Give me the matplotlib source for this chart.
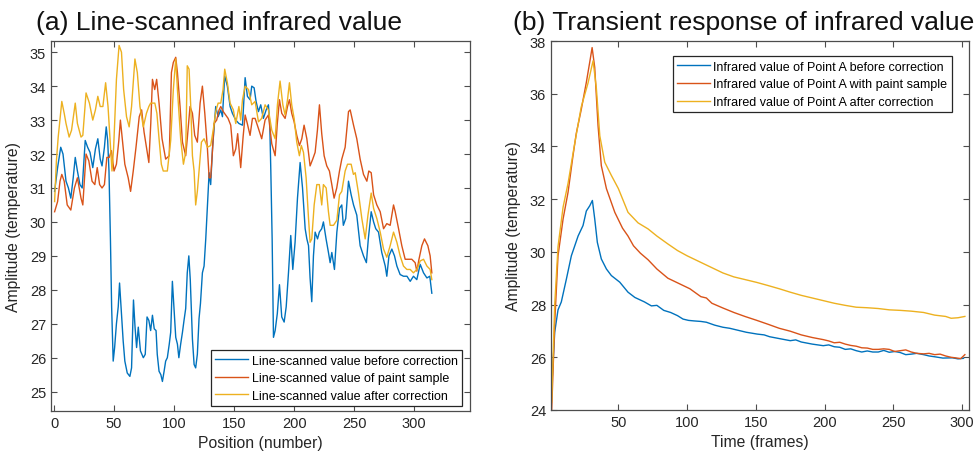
import matplotlib
matplotlib.use("Agg")
import matplotlib.pyplot as plt

# ---------------- data: panel (a) ----------------
blue_pos = [0.5, 3, 5.6, 7.5, 10, 12, 14, 16, 17.7, 19.5, 21.6, 23.5, 26, 28, 30, 32.3, 34.5, 36.5, 38.5, 40,
            42, 43.5, 44.7, 45.8, 47, 48, 49.3, 50.5, 52, 53.5, 54.6, 55.8, 57.6, 59, 61, 63.2, 64.6, 66.2, 67.5, 68.8,
            70.2, 72, 74.4, 76, 77.5, 79, 80.5, 82, 83.5, 85, 86, 87.5, 89, 90.3, 91.7, 93, 94.4, 96, 97.2, 98.6,
            100, 101.4, 102.8, 104, 105.5, 107, 108.3, 109.7, 111, 112.3, 113.5, 115.3, 116.7, 118, 119.4, 120.8, 122, 123.6, 125, 126.4,
            127.8, 129.2, 130.5, 132, 133.3, 134.7, 136.7, 138.9, 140.3, 142.2, 144.4, 146.7, 148.6, 151.4, 154, 157, 159.2, 161.1, 163.3, 164.7,
            166.7, 168.3, 170.3, 172.2, 174.4, 176.7, 178.6, 179.7, 180.6, 181.7, 182.8, 184.2, 186, 187.8, 189.7, 191.7, 193.4, 195.3, 197.2, 198.9,
            200.8, 202.8, 205, 207, 209.2, 210.6, 212, 213.3, 214.7, 216.1, 217.5, 219.5, 221, 223, 224.4, 226.6, 228.6, 230, 231.4, 233.6,
            235.6, 237.8, 239.7, 241, 243, 245.3, 247.5, 249.5, 252.2, 255, 257.8, 260.2, 261.8, 264.2, 266.2, 268, 270.3, 273, 275.9, 277.2,
            279, 281.4, 283.6, 285.6, 288.3, 291.1, 294, 296.7, 299.4, 302.2, 305, 307.8, 310.6, 313, 314.7]
blue_val = [30.9, 31.6, 32.2, 32.0, 31.2, 31.0, 30.7, 31.3, 31.9, 31.5, 31.1, 31.0, 32.4, 32.2, 32.05, 31.6, 32.15, 32.45, 31.85, 31.65,
            32.2, 32.8, 32.4, 31.5, 29.5, 27.5, 25.9, 26.3, 27.0, 27.5, 28.2, 27.5, 26.5, 25.9, 25.55, 25.45, 25.7, 27.7, 26.9, 26.3,
            26.9, 26.2, 26.0, 26.1, 27.2, 27.1, 26.8, 27.25, 26.85, 26.8, 26.1, 25.6, 25.5, 25.3, 25.6, 25.9, 26.0, 26.4, 26.75, 28.25,
            27.4, 26.6, 26.4, 26.0, 26.4, 26.75, 27.1, 27.45, 28.5, 29.0, 28.3, 26.55, 25.8, 25.7, 26.1, 27.15, 27.6, 28.5, 28.7, 29.5,
            30.5, 31.45, 31.1, 32.15, 32.75, 33.4, 33.1, 33.3, 33.1, 34.3, 34.0, 33.4, 33.2, 33.0, 32.9, 32.85, 34.25, 33.7, 33.6, 34.0,
            33.95, 33.55, 33.25, 33.45, 33.05, 33.3, 33.45, 32.9, 31.5, 29.5, 26.6, 26.8, 27.3, 28.15, 27.2, 27.05, 27.5, 28.5, 29.6, 28.6,
            29.4, 30.7, 31.75, 31.0, 29.8, 29.5, 29.3, 28.35, 27.65, 29.0, 29.7, 29.5, 29.7, 29.8, 30.0, 29.5, 29.1, 28.8, 29.1, 28.6,
            29.7, 30.4, 30.5, 29.9, 30.1, 31.2, 30.8, 30.5, 30.2, 29.3, 29.0, 28.8, 29.5, 30.3, 30.0, 29.8, 29.7, 29.1, 28.7, 28.4,
            29.0, 29.2, 29.0, 28.7, 28.45, 28.4, 28.4, 28.25, 28.4, 28.3, 28.75, 28.5, 28.35, 28.4, 27.9]

red_pos = [0.5, 3, 5, 6.5, 8.5, 11, 14, 17, 19.5, 22.5, 24, 26.7, 29, 31.7, 34, 36, 38, 40, 42, 44,
           46, 47.8, 50, 52, 54, 55.3, 57, 59, 61.8, 63.8, 66, 68.3, 71, 73, 75, 77, 79, 80.6, 82, 83.9,
           85.5, 87.5, 90, 93, 96, 97.8, 99.4, 101.4, 102.8, 105, 107, 109.7, 111, 113.3, 115.3, 117.2, 119.4, 121.7, 123.6, 125.6,
           127.8, 129.2, 130.5, 132, 133.3, 135.5, 137.5, 138.9, 141, 143, 145, 147.2, 149.4, 151.4, 153, 155.5, 157.5, 159.2, 161, 163.3,
           165.3, 167.5, 170.3, 173, 175.8, 178.6, 181.4, 184.2, 186, 187.8, 189.7, 192.5, 194.5, 196.1, 198, 200, 202.2, 204.4, 206.4, 208.3,
           210.6, 213.3, 215.5, 217.5, 219.4, 221.1, 223, 225, 227.2, 229.4, 231.4, 233.3, 235.5, 237.8, 239.7, 242.5, 245.3, 246.7, 249.5, 252.2,
           255, 257.8, 260.6, 262.2, 264.2, 266.2, 268.9, 271.7, 274.5, 277.2, 280, 282.8, 284.2, 287, 289.7, 292.5, 295.3, 298, 300.8, 302.2,
           304, 306.4, 308.6, 311.4, 313.3, 314.7]
red_val = [30.3, 30.6, 31.2, 31.4, 31.2, 30.5, 30.35, 31.0, 31.3, 30.7, 30.5, 32.0, 31.8, 31.2, 31.1, 31.6, 31.1, 31.0, 31.1, 31.9,
           31.9, 32.1, 31.5, 31.7, 32.4, 33.0, 32.4, 31.7, 31.3, 30.9, 31.5, 32.2, 33.1, 33.3, 32.65, 32.2, 31.75, 32.9, 34.2, 33.9,
           34.2, 33.5, 32.45, 31.85, 31.95, 34.4, 34.7, 34.85, 34.4, 33.4, 32.35, 31.95, 32.45, 33.4, 33.2, 32.55, 32.35, 33.5, 34.0, 33.2,
           32.15, 31.3, 31.3, 32.1, 32.9, 33.0, 33.3, 33.4, 33.25, 33.15, 33.05, 32.85, 31.95, 32.15, 32.6, 31.6, 32.5, 33.15, 32.9, 32.55,
           33.05, 33.05, 32.75, 32.45, 33.0, 33.15, 32.3, 31.95, 32.9, 33.6, 33.2, 33.05, 33.4, 33.6, 33.2, 32.95, 32.55, 32.25, 32.45, 32.85,
           32.45, 31.65, 31.85, 32.05, 32.7, 33.45, 32.6, 31.95, 31.65, 31.5, 31.1, 30.7, 31.0, 31.5, 31.85, 32.2, 33.25, 33.3, 32.85, 32.45,
           31.85, 31.4, 31.2, 31.5, 31.45, 30.8, 30.5, 30.3, 29.8, 29.95, 29.9, 30.5, 30.3, 29.8, 29.3, 28.9, 28.9, 28.9, 28.8, 28.55,
           28.9, 29.3, 29.5, 29.3, 29.0, 28.5]

yel_pos = [0.5, 2, 3.5, 6.5, 8.5, 10, 12.6, 14.6, 17.7, 19.5, 22.5, 24, 26.7, 29.5, 32.3, 34.5, 36.5, 38.5, 40.7, 43,
           45, 47, 48.3, 49.7, 52, 54.2, 56.2, 58, 60.4, 62.6, 64.6, 67.4, 69.4, 71.6, 74.4, 77, 79, 80.5, 82, 84,
           85.7, 87.5, 89.4, 91, 94.4, 97.2, 99.4, 101.4, 102.8, 105.5, 107.8, 109.7, 111, 112.5, 113.9, 115.3, 116.7, 118, 119.4, 120.8,
           122.8, 125, 127.8, 130.5, 132.8, 134.7, 136.7, 138.9, 140.8, 142.2, 144.4, 146.7, 149.4, 151.4, 154, 155.5, 157, 159.2, 162, 164.7,
           167.5, 170.3, 173, 175.8, 178.6, 181.4, 184.2, 186.1, 188.3, 190.6, 192.5, 194.5, 196.1, 198, 200, 202.2, 204.4, 206, 207.8, 210,
           212, 213.3, 214.7, 216.7, 218.9, 221, 223, 224.4, 226.7, 228.6, 230, 232.8, 235.6, 237.8, 239.7, 242.5, 244.5, 247.5, 249.4, 250.9,
           253.6, 256.4, 259.2, 261.5, 264.2, 266.2, 268.9, 271.7, 274.5, 277.2, 280, 282.8, 285.6, 288.3, 291.1, 293.9, 296.7, 299.4, 302.2, 305,
           307.8, 310.6, 313.3, 314.7]
yel_val = [30.6, 31.8, 32.5, 33.55, 33.2, 32.9, 32.5, 32.7, 33.5, 32.9, 32.5, 32.55, 33.8, 33.5, 33.0, 33.3, 33.7, 33.4, 33.4, 34.1,
           33.4, 32.25, 31.5, 32.2, 34.2, 35.2, 35.0, 33.9, 33.1, 32.8, 33.4, 34.8, 34.4, 33.4, 32.8, 33.2, 33.4, 33.5, 33.5, 33.5,
           33.2, 32.45, 31.7, 31.5, 31.5, 32.4, 33.9, 34.8, 33.9, 32.45, 31.7, 32.05, 34.6, 34.5, 33.4, 31.95, 31.5, 30.5, 30.9, 31.5,
           32.35, 32.45, 32.2, 32.25, 32.75, 33.25, 33.5, 33.5, 33.9, 34.5, 34.1, 33.5, 33.3, 32.9, 33.4, 33.0, 33.6, 34.0, 33.9, 33.45,
           33.55, 32.95, 33.05, 33.45, 33.3, 32.7, 32.45, 33.45, 34.15, 33.45, 33.15, 33.6, 34.1, 33.45, 33.05, 32.35, 31.95, 32.25, 32.05, 31.3,
           30.1, 29.4, 29.5, 30.5, 31.1, 31.1, 30.5, 31.1, 31.0, 30.3, 29.9, 29.9, 30.05, 30.8, 30.9, 31.5, 31.7, 31.7, 31.4, 31.45,
           30.85, 30.1, 29.5, 30.2, 30.85, 30.4, 30.1, 29.7, 29.2, 28.96, 29.3, 29.7, 29.4, 29.0, 28.7, 28.6, 28.6, 28.5, 28.6, 28.85,
           28.9, 28.7, 28.6, 28.3]

labels_a = ["Line-scanned value before correction",
            "Line-scanned value of paint sample",
            "Line-scanned value after correction"]

# ---------------- data: panel (b) ----------------
bt_frames = [1, 2, 3.7, 6.1, 8.5, 12.2, 15.8, 20.7, 24.3, 26.7, 29.2, 31.1, 32.8, 34.7, 37.6, 41.3, 44.9, 51, 57, 62,
             69, 74, 78, 83, 88, 93, 97, 101, 105, 110, 114, 120, 126, 131, 135, 143, 151, 156, 160, 168, 175, 179, 183, 191,
             199, 203, 207, 211, 215, 219, 223, 227, 231, 235, 239, 243, 247, 251, 255, 259, 263, 267, 272, 276, 280, 286, 293, 297, 301]
bt_val = [24.6, 25.3, 26.95, 27.8, 28.1, 28.97, 29.85, 30.6, 31.0, 31.55, 31.75, 31.95, 31.25, 30.36, 29.73, 29.35, 29.1, 28.85, 28.47, 28.27,
          28.1, 27.95, 27.97, 27.78, 27.7, 27.58, 27.45, 27.4, 27.38, 27.36, 27.33, 27.22, 27.14, 27.1, 27.05, 26.95, 26.88, 26.85, 26.78, 26.7, 26.63, 26.66, 26.58, 26.5,
          26.44, 26.47, 26.4, 26.38, 26.3, 26.32, 26.25, 26.2, 26.24, 26.2, 26.2, 26.26, 26.19, 26.22, 26.18, 26.1, 26.12, 26.15, 26.1, 26.05, 26.02, 25.97, 25.98, 25.94, 25.96]

rt_frames = [1.5, 3.7, 6.1, 9.8, 13.4, 17, 19.4, 23, 26.7, 29.5, 30.9, 32.8, 35.2, 37.6, 41.3, 47.4, 53, 57, 61, 66,
             71.6, 78, 86, 94, 102, 110, 114, 118, 126, 134, 142, 150.7, 159, 167, 175, 183, 191, 199, 203, 207, 211, 215, 219, 223,
             227, 231, 235, 239, 243, 247, 251, 255, 259, 263, 267, 272, 276, 280, 284, 288, 292, 295, 299, 302]
rt_val = [24.0, 27.3, 29.85, 31.25, 32.26, 33.65, 34.5, 35.4, 36.43, 37.3, 37.75, 37.0, 34.8, 33.27, 32.4, 31.5, 30.9, 30.6, 30.23, 29.95,
          29.7, 29.35, 29.0, 28.8, 28.6, 28.3, 28.25, 28.05, 27.87, 27.7, 27.55, 27.4, 27.25, 27.1, 26.99, 26.85, 26.75, 26.67, 26.62, 26.55, 26.57, 26.5, 26.45, 26.42,
          26.36, 26.35, 26.3, 26.3, 26.32, 26.3, 26.22, 26.25, 26.28, 26.2, 26.15, 26.13, 26.15, 26.1, 26.12, 26.05, 26.0, 25.98, 25.95, 26.1]

yt_frames = [1.5, 3.7, 6.1, 9.8, 13.4, 18.2, 23, 27.9, 31.6, 34, 36.5, 40.1, 44.9, 50, 57, 64.3, 71.6, 78, 86, 93,
             100, 110, 118, 126, 134, 142, 150.7, 159, 167, 175, 183, 191, 199, 207, 215, 223, 231, 239, 247, 255,
             263, 272, 280, 288, 292, 297, 302]
yt_val = [24.3, 28.0, 30.2, 31.7, 32.6, 34.1, 35.5, 36.4, 37.25, 36.2, 34.4, 33.4, 32.9, 32.4, 31.5, 31.1, 30.87, 30.6, 30.3, 30.05,
          29.85, 29.6, 29.4, 29.2, 29.05, 28.95, 28.84, 28.72, 28.6, 28.47, 28.35, 28.25, 28.15, 28.05, 27.97, 27.9, 27.88, 27.85, 27.8, 27.78,
          27.75, 27.7, 27.6, 27.55, 27.48, 27.5, 27.55]

labels_b = ["Infrared value of Point A before correction",
            "Infrared value of Point A with paint sample",
            "Infrared value of Point A after correction"]

colors = ["#0072BD", "#D95319", "#EDB120"]

# ---------------- figure ----------------
plt.rcParams['font.family'] = ['Liberation Sans', 'DejaVu Sans']
W, H = 979, 464
fig = plt.figure(figsize=(W / 100, H / 100), dpi=100)

def px_axes(x0, x1, y0, y1):
    return fig.add_axes([x0 / W, 1 - y1 / H, (x1 - x0) / W, (y1 - y0) / H])

def style(ax):
    for s in ax.spines.values():
        s.set_color("#4d4d4d")
        s.set_linewidth(0.9)
    ax.tick_params(direction="in", top=True, right=True, length=4, width=0.8,
                   colors="#4d4d4d", labelcolor="#262626", labelsize=10.5)

def legend(ax, labels_loc, anchor):
    leg = ax.legend(loc=labels_loc, bbox_to_anchor=anchor, borderaxespad=0,
                    fontsize=9.0, frameon=True, fancybox=False, framealpha=1,
                    handlelength=2.6, handletextpad=0.3, labelspacing=0.45, borderpad=0.35)
    leg.get_frame().set_edgecolor("#262626")
    leg.get_frame().set_linewidth(0.9)
    return leg

ax1 = px_axes(51, 470, 42, 412)
ax1.plot(blue_pos, blue_val, color=colors[0], lw=1.0, label=labels_a[0])
ax1.plot(red_pos, red_val, color=colors[1], lw=1.0, label=labels_a[1])
ax1.plot(yel_pos, yel_val, color=colors[2], lw=1.0, label=labels_a[2])
ax1.set_xlim(-2.5, 346.5)
ax1.set_ylim(24.43, 35.33)
ax1.set_xticks([0, 50, 100, 150, 200, 250, 300])
ax1.set_yticks([25, 26, 27, 28, 29, 30, 31, 32, 33, 34, 35])
style(ax1)
ax1.set_xlabel("Position (number)", fontsize=11.3, color="#262626", labelpad=4)
ax1.set_ylabel("Amplitude (temperature)", fontsize=11.3, color="#262626", labelpad=6)
legend(ax1, "lower right", (0.981, 0.013))

ax2 = px_axes(551, 969, 42, 411)
ax2.plot(bt_frames, bt_val, color=colors[0], lw=1.0, label=labels_b[0])
ax2.plot(rt_frames, rt_val, color=colors[1], lw=1.0, label=labels_b[1])
ax2.plot(yt_frames, yt_val, color=colors[2], lw=1.0, label=labels_b[2])
ax2.set_xlim(1, 305)
ax2.set_ylim(24, 38)
ax2.set_xticks([50, 100, 150, 200, 250, 300])
ax2.set_yticks([24, 26, 28, 30, 32, 34, 36, 38])
style(ax2)
ax2.set_xlabel("Time (frames)", fontsize=11.3, color="#262626", labelpad=4)
ax2.set_ylabel("Amplitude (temperature)", fontsize=11.3, color="#262626", labelpad=6)
legend(ax2, "upper right", (0.9586, 0.9585))

fig.text(36 / W, 1 - 30 / H, "(a) Line-scanned infrared value", fontsize=19,
         ha="left", va="baseline", color="#111111")
fig.text(513 / W, 1 - 30 / H, "(b) Transient response of infrared value", fontsize=19,
         ha="left", va="baseline", color="#111111")

fig.savefig("out.png", dpi=100)
